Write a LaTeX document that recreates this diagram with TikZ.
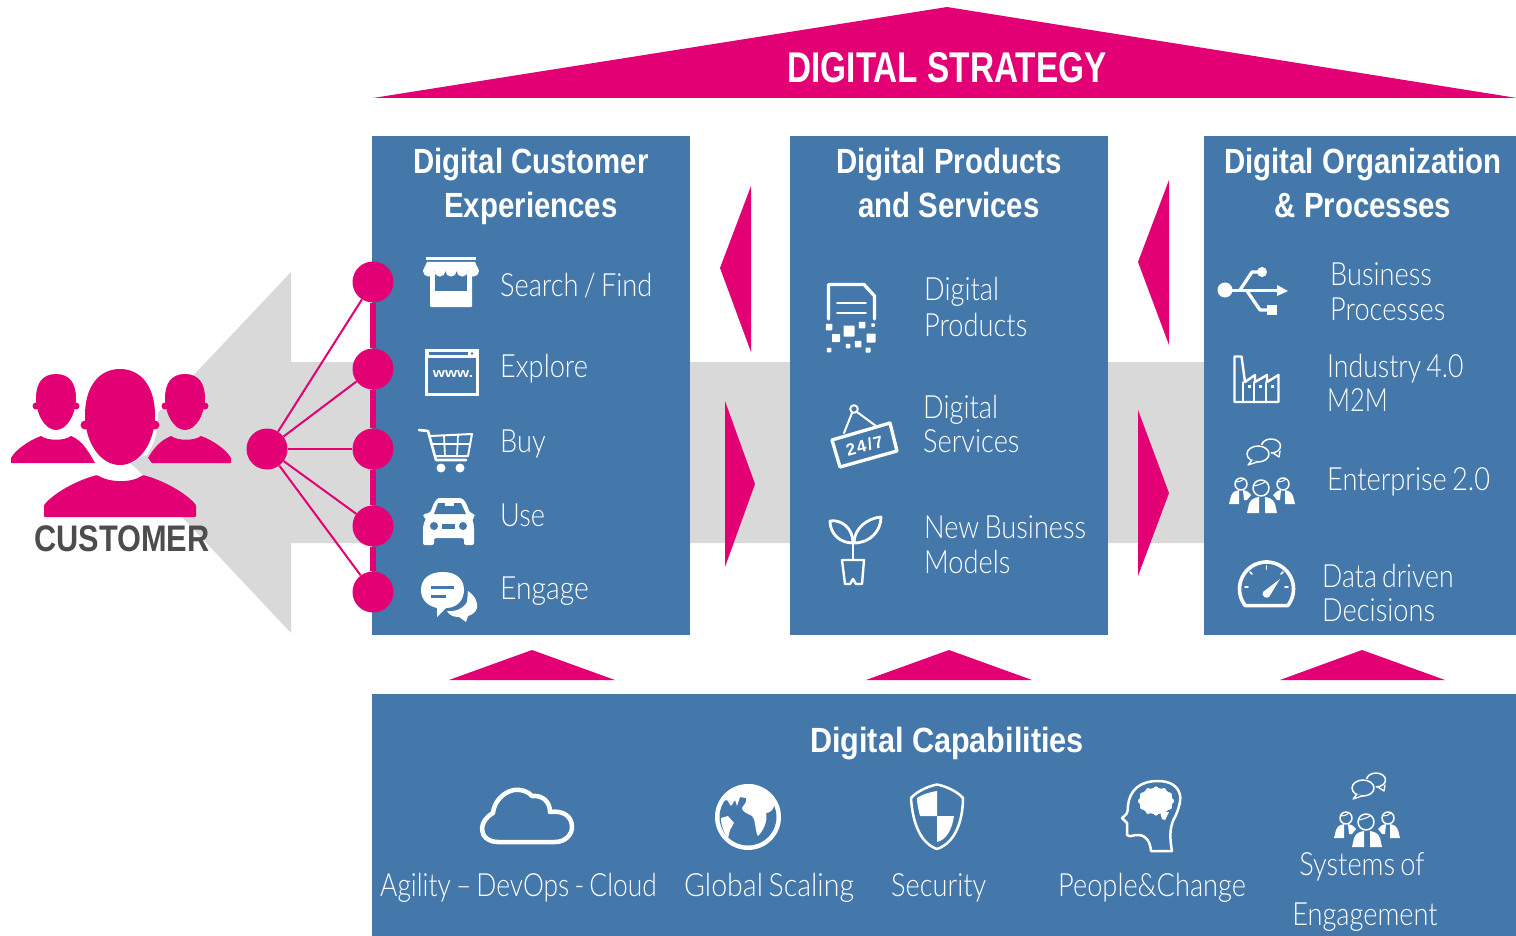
\documentclass[tikz,border=0pt]{standalone}
\usepackage{fontspec}
\newfontfamily\lgt[FakeStretch=0.85,WordSpace=0.72]{Lato Light}
\newfontfamily\hbd[FakeStretch=0.84]{Liberation Sans Bold}
\newfontfamily\hbdw[FakeStretch=0.875]{Liberation Sans Bold}
\newfontfamily\cbd[FakeStretch=0.83]{Liberation Sans Bold}
\newfontfamily\tbd[FakeStretch=0.775]{Liberation Sans Bold}
\newfontfamily\wwwf[FakeStretch=1.2]{Liberation Sans}
\newfontfamily\signf[LetterSpace=9]{Liberation Sans Bold}
\definecolor{mag}{HTML}{E20074}
\definecolor{tblue}{HTML}{4478AA}
\definecolor{band}{HTML}{D9D9D9}
\definecolor{cust}{HTML}{4D4D4D}
\tikzset{
 panel/.style={fill=tblue,draw=none},
 tri/.style={fill=mag,draw=none},
 dotn/.style={circle,fill=mag,draw=none,minimum size=41pt,inner sep=0pt},
 spoke/.style={draw=mag,line width=2pt},
 lbl/.style={anchor=base west,inner sep=0pt,text=white,font=\lgt\fontsize{32}{32}\selectfont},
 lblc/.style={lbl,anchor=base},
 head/.style={anchor=base,inner sep=0pt,text=white,font=\hbd\fontsize{35}{35}\selectfont},
 ico/.style={draw=white,line width=3.3pt,fill=none,line join=round,line cap=round},
 icot/.style={draw=white,line width=1.7pt,fill=none,line join=round,line cap=round}
}
\newcommand{\peopleicon}[2]{%
 \begin{scope}[shift={(#1,#2)}]
  \draw[icot,line width=1.5pt] (1271,446) ellipse (9.5 and 7);
  \fill[tblue] (1258,454) ellipse (13 and 9.5);
  \draw[icot,line width=1.5pt] (1258,454) ellipse (11 and 8);
  \draw[icot,line width=1.3pt,fill=tblue] (1252,460) -- (1248,465) -- (1257,462);
  \draw[icot,line width=1.3pt] (1280,451) -- (1279,457) -- (1273,453);
  \draw[icot,line width=1.5pt] (1241,484) circle (6);
  \draw[icot,line width=1.5pt] (1283,484) circle (6);
  \draw[icot,line width=1.5pt] (1261,488) circle (8);
  \draw[icot,line width=1pt] (1254,486) .. controls (1258,485) and (1262,484) .. (1265,482);
  \draw[icot,line width=1pt] (1236,482) .. controls (1239,482) and (1242,481) .. (1244,479);
  \draw[icot,line width=1pt] (1278,482) .. controls (1281,482) and (1284,481) .. (1286,479);
  \fill[white] (1229,504) -- (1231,496) .. controls (1233,491) and (1236,491) .. (1239,490) -- (1239,504) -- cycle;
  \fill[white] (1243,490) .. controls (1247,491) and (1249,492) .. (1251,495) -- (1247,500) -- (1244,500) -- cycle;
  \fill[white] (1295,504) -- (1293,496) .. controls (1291,491) and (1288,491) .. (1285,490) -- (1285,504) -- cycle;
  \fill[white] (1281,490) .. controls (1277,491) and (1275,492) .. (1273,495) -- (1277,500) -- (1280,500) -- cycle;
  \fill[white] (1247,513) -- (1249,504) .. controls (1251,499) and (1254,498) .. (1259,497) -- (1259,513) -- cycle;
  \fill[white] (1277,513) -- (1275,504) .. controls (1273,499) and (1270,498) .. (1265,497) -- (1265,513) -- cycle;
 \end{scope}}
\newcommand{\sidehead}[1]{%
 \begin{scope}[shift={(#1,0)}]
  \fill[mag] (0,374) .. controls (14,374) and (20,384) .. (20,398) .. controls (20,414) and (11,430) .. (0,430) .. controls (-11,430) and (-20,414) .. (-20,398) .. controls (-20,384) and (-14,374) .. (0,374) -- cycle;
  \fill[mag] (-20,406) circle (3.5); \fill[mag] (20,406) circle (3.5);
 \end{scope}}
\begin{document}
\begin{tikzpicture}[x=1pt,y=-1pt]
\useasboundingbox (0,0) rectangle (1516,936);
% grey arrow
\fill[band] (1204,362) -- (291,362) -- (291,272) -- (121,452) -- (291,633) -- (291,543) -- (1204,543) -- cycle;
% roof
\fill[tri] (373,98) -- (947,7) -- (1517,98) -- cycle;
\node[anchor=base,inner sep=0pt,text=white,font=\tbd\fontsize{43}{43}\selectfont] (strategy) at (947,83) {DIGITAL STRATEGY};
% panels
\fill[panel] (372,136) rectangle (690,635);
\fill[panel] (790,136) rectangle (1108,635);
\fill[panel] (1204,136) rectangle (1516,635);
\fill[panel] (372,694) rectangle (1516,936);
% side triangles
\fill[tri] (751,186) -- (751,352) -- (720,268) -- cycle;
\fill[tri] (725,401) -- (725,567) -- (755,484) -- cycle;
\fill[tri] (1169,180) -- (1169,345) -- (1138,262) -- cycle;
\fill[tri] (1138,410) -- (1138,576) -- (1169,493) -- cycle;
\fill[tri] (449,680) -- (532,650) -- (615,680) -- cycle;
\fill[tri] (866,680) -- (949,650) -- (1032,680) -- cycle;
\fill[tri] (1280,680) -- (1362,650) -- (1445,680) -- cycle;
% headings
\node[head] (h1a) at (531,174) {Digital Customer};
\node[head] (h1b) at (531,218) {Experiences};
\node[head] (h2a) at (949,174) {Digital Products};
\node[head] (h2b) at (949,218) {and Services};
\node[head] (h3a) at (1363,174) {Digital Organization};
\node[head] (h3b) at (1363,218) {\& Processes};
\node[head,font=\hbdw\fontsize{35}{35}\selectfont] (h4) at (947,752) {Digital Capabilities};
% customer journey dots
\node[dotn] (c1) at (373,282) {};
\node[dotn] (c2) at (373,369) {};
\node[dotn] (c3) at (373,449) {};
\node[dotn] (c4) at (373,526) {};
\node[dotn] (c5) at (373,592) {};
\node[dotn] (hub) at (267,449) {};
\draw[draw=mag,line width=6pt] (c1) -- (c2);
\draw[draw=mag,line width=6pt] (c2) -- (c3);
\draw[draw=mag,line width=6pt] (c3) -- (c4);
\draw[draw=mag,line width=6pt] (c4) -- (c5);
\foreach \t in {c1,c2,c3,c4,c5}{\draw[spoke] (hub) -- (\t);}
% customer figure
\sidehead{56}
\sidehead{185}
\fill[mag] (11,463) -- (11,458) .. controls (16,449) and (30,440) .. (41,436) .. controls (48,441) and (64,441) .. (71,436) .. controls (80,440) and (85,445) .. (95,463) -- cycle;
\fill[mag] (231,463) -- (231,458) .. controls (226,449) and (212,440) .. (201,436) .. controls (194,441) and (178,441) .. (171,436) .. controls (162,440) and (155,445) .. (145,463) -- cycle;
\fill[white] (120,417) ellipse (38 and 54);
\fill[mag] (120,369) .. controls (142,369) and (155,388) .. (155,415) .. controls (155,442) and (140,465) .. (120,465) .. controls (100,465) and (85,442) .. (85,415) .. controls (85,388) and (98,369) .. (120,369) -- cycle;
\fill[mag] (85,425) circle (4.5); \fill[mag] (155,425) circle (4.5);
\fill[band] (130,463) -- (160,488) -- (172,498) -- (160,475) -- (146,455) -- cycle;
\fill[mag,rounded corners=1pt] (44,517) -- (44,505) .. controls (55,492) and (78,480) .. (97,475) .. controls (110,483) and (132,483) .. (143,475) .. controls (162,480) and (185,492) .. (196,505) -- (196,517) -- cycle;
\node[anchor=base,inner sep=0pt,text=cust,font=\cbd\fontsize{37}{37}\selectfont] (customer) at (122,551) {CUSTOMER};
% left list labels
\node[lbl] (l1) at (500,296) {Search / Find};
\node[lbl] (l2) at (500,377) {Explore};
\node[lbl] (l3) at (500,452) {Buy};
\node[lbl] (l4) at (500,526) {Use};
\node[lbl] (l5) at (500,599) {\scalebox{1.04}[1]{Engage}};
% store icon
\fill[white,rounded corners=1pt] (430,272) rectangle (472,307);
\fill[tblue] (435,272) rectangle (467,291);
\fill[white] (426,257) rectangle (476,260);
\fill[white] (427,262) -- (475,262) -- (479,271) -- (423,271) -- cycle;
\foreach \x in {428.6,439.8,451,462.2,473.4}{\fill[white] (\x,271) circle (5.6);}
% window icon
\draw[draw=white,line width=3pt] (426.5,350.5) rectangle (477.5,394.5);
\fill[white] (426,350) rectangle (478,358);
\fill[tblue] (429,352) rectangle (468,355);
\fill[tblue] (472,353.5) circle (1.4);
\node[anchor=center,inner sep=0pt,text=white,font=\wwwf\fontsize{13}{13}\selectfont\bfseries] (www) at (453,374) {www.};
% cart icon
\draw[ico,line width=2.6pt] (419,430) -- (428,431) -- (436,460) -- (466,460);
\draw[ico,line width=2pt] (430,436) -- (472,434) -- (468,456) -- (435,456);
\draw[icot] (431,444) -- (470,444);
\draw[icot] (444,436) -- (445,456);
\draw[icot] (458,435) -- (457,456);
\fill[white] (441,468) circle (4.5); \fill[white] (460,468) circle (4.5);
% car icon
\fill[white,rounded corners=2pt] (430,513) -- (434,503) .. controls (436,500) and (438,498) .. (441,498) -- (458,498) .. controls (462,498) and (464,500) .. (466,503) -- (470,513) -- (475,514) -- (475,517) -- (472,518) -- (474,526) -- (474,545) -- (464,545) -- (464,538) -- (434,538) -- (434,545) -- (423,545) -- (423,526) -- (426,518) -- (423,517) -- (423,514) -- cycle;
\fill[tblue] (434,514) -- (438,503) -- (461,503) -- (466,514) -- cycle;
\fill[white] (445,503) rectangle (454,506);
\fill[tblue] (434,526) circle (4); \fill[tblue] (463,526) circle (4);
\fill[tblue] (442,524) rectangle (455,529);
% chat icon
\fill[white] (443,572) .. controls (429,572) and (421,579) .. (421,590) .. controls (421,600) and (428,606) .. (437,608) -- (437,617) -- (446,608) .. controls (458,608) and (464,599) .. (464,590) .. controls (464,579) and (456,572) .. (443,572) -- cycle;
\fill[tblue] (431,586) rectangle (454,588.5);
\fill[tblue] (431,595) rectangle (446,597.5);
\fill[white] (468,591) .. controls (475,596) and (478,602) .. (477,608) .. controls (476,612) and (472,615) .. (468,616) -- (466,622) -- (459,617) .. controls (453,617) and (449,615) .. (447,611) .. controls (455,612) and (463,609) .. (467,602) -- cycle;
% middle labels
\node[lbl] (m1) at (924,301) {Digital};
\node[lbl] (m2) at (924,336) {Products};
\node[lbl] (m3) at (923,418) {Digital};
\node[lbl] (m4) at (923,452) {Services};
\node[lbl] (m5) at (924,538) {New Business};
\node[lbl] (m6) at (924,573) {Models};
% document icon
\draw[ico] (828.5,319) -- (828.5,284.5) -- (864,284.5) -- (874.5,296) -- (874.5,319);
\draw[icot] (837,303) -- (866,303);
\draw[icot] (837,313) -- (866,313);
\foreach \px/\py/\ps in {829/327/6.5,849/331/11,836/338/8,862/325/6.5,873/325/3.5,871/338/9,858/344/6.5,848/346/4.5,829/350/4.5,868/350/5}{
  \fill[white,rounded corners=0.7pt] (\px-\ps/2,\py-\ps/2) rectangle (\px+\ps/2,\py+\ps/2);}
% 24/7 icon
\draw[ico] (832,440) -- (890,423) -- (897,451) -- (840,467) -- cycle;
\draw[icot,line width=2pt] (854,409) circle (3.8);
\draw[icot,line width=2pt] (852,413) -- (844,433);
\draw[icot,line width=2pt] (857,412) -- (876,426);
\node[anchor=center,inner sep=0pt,rotate=15,text=white,font=\signf\fontsize{17}{17}\selectfont] (sign) at (864.5,446) {24/7};
% plant icon
\draw[ico,line width=2.8pt] (830,521) .. controls (841,519) and (853,528) .. (853,543) .. controls (840,543) and (830,534) .. (830,521) -- cycle;
\draw[ico,line width=2.8pt] (881,517) .. controls (868,518) and (854,528) .. (854,543) .. controls (870,543) and (881,531) .. (881,517) -- cycle;
\draw[ico,line width=2.8pt] (853,543) -- (853,559);
\draw[ico,line width=2.4pt] (842,560) -- (864,560) -- (862,584) -- (856,584) -- (853,579) -- (850,584) -- (845,584) -- cycle;
% right labels
\node[lbl] (r1) at (1330,286) {Business};
\node[lbl] (r2) at (1330,320) {Processes};
\node[lbl] (r3) at (1327,377) {\scalebox{.98}[1]{Industry 4.0}};
\node[lbl] (r4) at (1327,411) {\scalebox{.93}[1]{M2M}};
\node[lbl] (r5) at (1327,490) {Enterprise 2.0};
\node[lbl] (r6) at (1322,587) {\scalebox{.98}[1]{Data driven}};
\node[lbl] (r7) at (1322,621) {Decisions};
% usb icon
\fill[white] (1225,290) circle (7.5);
\draw[ico] (1225,290.5) -- (1278,290.5);
\fill[white] (1277,285) -- (1288,291) -- (1277,296) -- cycle;
\draw[ico] (1240,290) -- (1252,272) -- (1262,272);
\fill[white] (1262,272) circle (5);
\draw[ico] (1247,291) -- (1260,310) -- (1270,310);
\fill[white] (1267,305) rectangle (1277,315);
% factory icon
\draw[ico,line width=2.4pt] (1234.5,402) -- (1234.5,356.5) -- (1241.5,356.5) -- (1245,382) -- (1255,375) -- (1255,382) -- (1267,375) -- (1267,382) -- (1278.5,375) -- (1278.5,402) -- cycle;
\draw[icot] (1243,382) -- (1243,401);
\draw[icot] (1254,382) -- (1254,401);
\draw[icot] (1266,382) -- (1266,401);
\fill[white] (1248,384.5) rectangle (1251,387.5);
\fill[white] (1259,384.5) rectangle (1262,387.5);
\fill[white] (1271,384.5) rectangle (1274,387.5);
% people icons
\peopleicon{0}{0}
\peopleicon{105}{334}
% gauge icon
\draw[ico,line width=3.6pt] plot[domain=-38:218,samples=40] ({1266.5+27*cos(\x)},{589-27*sin(\x)}) -- cycle;
\draw[icot] (1266.5,566) -- (1266.5,569);
\draw[icot] (1250,572) -- (1252,574);
\draw[icot] (1283,572) -- (1281,574);
\draw[icot] (1245,587) -- (1248,587);
\draw[icot] (1285,587) -- (1288,587);
\fill[white] (1263,592) -- (1280,579) -- (1269,597) .. controls (1266,599) and (1261,596) .. (1263,592) -- cycle;
% bottom labels
\node[lbl] (b1) at (380,896) {\scalebox{.97}[1]{Agility – DevOps - Cloud}};
\node[lbl] (b2) at (684,896) {\scalebox{1.05}[1]{Global Scaling}};
\node[lbl] (b3) at (891,896) {Security};
\node[lbl] (b4) at (1058,896) {People\&Change};
\node[lblc] (b5) at (1362,875) {Systems of};
\node[lblc] (b6) at (1365,925) {Engagement};
% cloud icon
\draw[ico,line width=4.5pt] (498,842) -- (555,842) .. controls (566,842) and (572,834) .. (572,827) .. controls (572,817) and (564,810) .. (550,812) .. controls (550,802) and (543,795) .. (532,796) .. controls (528,791) and (520,789) .. (514,790) .. controls (503,792) and (494,802) .. (493,813) .. controls (486,817) and (482,823) .. (482,829) .. controls (482,836) and (488,842) .. (498,842) -- cycle;
% globe icon
\fill[white] (748,817) circle (33);
\fill[tblue] (748,817) circle (28.5);
\fill[white] (723,801) .. controls (730,788) and (742,784) .. (750,784) .. controls (762,785) and (772,795) .. (775,804) .. controls (773,810) and (770,813) .. (766,813) .. controls (768,820) and (764,830) .. (758,836) .. controls (755,832) and (756,820) .. (752,816) .. controls (747,813) and (742,812) .. (742,808) .. controls (744,804) and (747,803) .. (746,798) -- (740,797) -- (737,806) -- (735,800) -- (731,806) -- (727,800) -- cycle;
\fill[white] (721,818) -- (728,816) -- (734,823) -- (730,830) -- (728,838) .. controls (724,833) and (721,826) .. (721,818) -- cycle;
% shield icon
\draw[ico,line width=2.5pt] (937,784.5) .. controls (945,786) and (957,791) .. (963,798) .. controls (963,815) and (958,842) .. (937,849) .. controls (917,842) and (912,815) .. (911,798) .. controls (917,791) and (929,786) .. (937,784.5) -- cycle;
\fill[white] (937,791) -- (937,816) -- (920,816) .. controls (918,808) and (917,803) .. (917,798) .. controls (921,795) and (930,792) .. (937,791) -- cycle;
\fill[white] (937,816) -- (954,816) .. controls (952,830) and (946,840) .. (937,842) -- cycle;
% head icon
\draw[ico,line width=2.5pt] (1151,851) -- (1172,851) .. controls (1169,835) and (1170,825) .. (1176,815) .. controls (1180,805) and (1181,798) .. (1180,795) .. controls (1178,786) and (1170,781) .. (1158,781) .. controls (1140,781) and (1130,790) .. (1128,805) .. controls (1128,815) and (1126,814) .. (1122,818) -- (1127,823) -- (1127,835) .. controls (1130,838) and (1135,834) .. (1139,835) .. controls (1147,836) and (1150,842) .. (1151,851) -- cycle;
\fill[white] (1156,801) ellipse (17 and 13);
\foreach \a in {0,30,...,330}{\fill[white] ({1156+15.5*cos(\a)},{801+12*sin(\a)}) circle (2.6);}
\fill[white] (1160,812) -- (1169,812) -- (1165,820) -- (1162,819) -- cycle;
\end{tikzpicture}
\end{document}
